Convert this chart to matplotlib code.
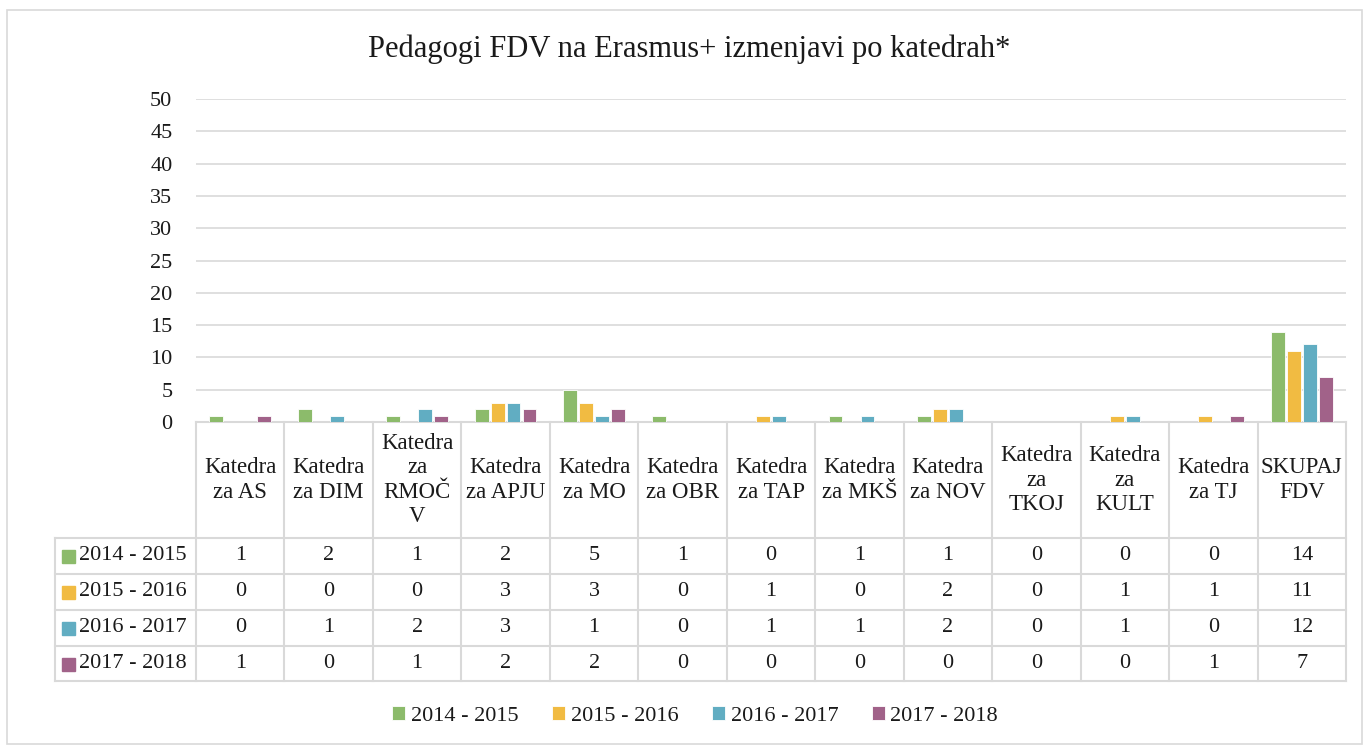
import numpy as np
import matplotlib
matplotlib.use("Agg")
import matplotlib.pyplot as plt
import matplotlib.patches as ptc
import matplotlib.transforms as mtrans
from matplotlib.lines import Line2D

plt.rcParams['font.family'] = ['Liberation Serif', 'DejaVu Serif']

# --- data ---
categories = ["Katedra\nza AS", "Katedra\nza DIM", "Katedra\nza\nRMOČ\nV", "Katedra\nza APJU",
              "Katedra\nza MO", "Katedra\nza OBR", "Katedra\nza TAP", "Katedra\nza MKŠ",
              "Katedra\nza NOV", "Katedra\nza\nTKOJ", "Katedra\nza\nKULT", "Katedra\nza TJ",
              "SKUPAJ\nFDV"]
series_names = ["2014 - 2015", "2015 - 2016", "2016 - 2017", "2017 - 2018"]
y2014 = [1, 2, 1, 2, 5, 1, 0, 1, 1, 0, 0, 0, 14]
y2015 = [0, 0, 0, 3, 3, 0, 1, 0, 2, 0, 1, 1, 11]
y2016 = [0, 1, 2, 3, 1, 0, 1, 1, 2, 0, 1, 0, 12]
y2017 = [1, 0, 1, 2, 2, 0, 0, 0, 0, 0, 0, 1, 7]
series = [y2014, y2015, y2016, y2017]
colors = ['#8cbb6b', '#f1bb42', '#61adc2', '#a16289']

W, H = 1364, 746
GRID = '#d9d9d9'
TXT = '#1a1a1a'

def fx(px):
    return px / W

def fy(py):
    return 1 - py / H

fig = plt.figure(figsize=(W / 100, H / 100), dpi=100)

# outer chart border
fig.patches.append(ptc.Rectangle((fx(7), fy(744)), fx(1362) - fx(7), fy(10) - fy(744),
                                 transform=fig.transFigure, fill=False,
                                 edgecolor=GRID, lw=1.2))

fig.text(0.505, fy(49), "Pedagogi FDV na Erasmus+ izmenjavi po katedrah*",
         ha='center', va='center', fontsize=22, color=TXT)

x_left, x_right, y_zero, y_top = 196, 1346, 422, 99
ax = fig.add_axes([fx(x_left), fy(y_zero), fx(x_right) - fx(x_left), (y_zero - y_top) / H])
n = len(categories)
x = np.arange(n)
bw = 0.155
step = 0.18
handles = []
for i, (vals, c, name) in enumerate(zip(series, colors, series_names)):
    b = ax.bar(x + (i - 1.5) * step, vals, width=bw, color=c, label=name,
               edgecolor='white', linewidth=0.6, zorder=3)
    handles.append(b)

ax.set_xlim(-0.5, n - 0.5)
ax.set_ylim(0, 50)
ax.set_yticks(np.arange(0, 51, 5))
ax.set_xticks([])
ax.tick_params(axis='y', length=0, labelsize=16, labelcolor=TXT, pad=17)
ax.grid(axis='y', color=GRID, lw=1.2, zorder=0)
for s in ['top', 'right', 'left']:
    ax.spines[s].set_visible(False)
ax.spines['bottom'].set_color(GRID)
ax.spines['bottom'].set_linewidth(1.5)

# --- data table under the plot ---
trans = mtrans.blended_transform_factory(ax.transData, fig.transFigure)
row_lines = [538, 574, 610, 646, 681]
header_mid = 480
label_left = 55

for k in range(n + 1):
    fig.add_artist(Line2D([k - 0.5, k - 0.5], [fy(y_zero), fy(row_lines[-1])],
                          transform=trans, color=GRID, lw=1.5))
fig.add_artist(Line2D([fx(label_left), fx(label_left)], [fy(row_lines[0]), fy(row_lines[-1])],
                      transform=fig.transFigure, color=GRID, lw=1.5))
for r in row_lines:
    fig.add_artist(Line2D([fx(label_left), fx(x_right)], [fy(r), fy(r)],
                          transform=fig.transFigure, color=GRID, lw=1.5))

for k, cat in enumerate(categories):
    fig.text(k, fy(header_mid), cat, transform=trans, ha='center', va='center',
             fontsize=16.5, color=TXT, linespacing=1.22)

for j, (vals, c, name) in enumerate(zip(series, colors, series_names)):
    ymid = (row_lines[j] + row_lines[j + 1]) / 2
    fig.patches.append(ptc.Rectangle((fx(62), fy(ymid + 7)), 13 / W, 13 / H,
                                     transform=fig.transFigure, color=c))
    fig.text(fx(79), fy(ymid), name, ha='left', va='center', fontsize=16, color=TXT)
    for k, v in enumerate(vals):
        fig.text(k, fy(ymid), str(v), transform=trans, ha='center', va='center',
                 fontsize=16, color=TXT)

fig.legend(handles=handles, labels=series_names, loc='center', ncol=4,
           bbox_to_anchor=(fx(695), fy(716)), frameon=False, fontsize=16,
           handlelength=0.6, handleheight=0.6, handletextpad=0.25, columnspacing=1.5,
           labelcolor=TXT)

fig.savefig("out.png", dpi=100)
